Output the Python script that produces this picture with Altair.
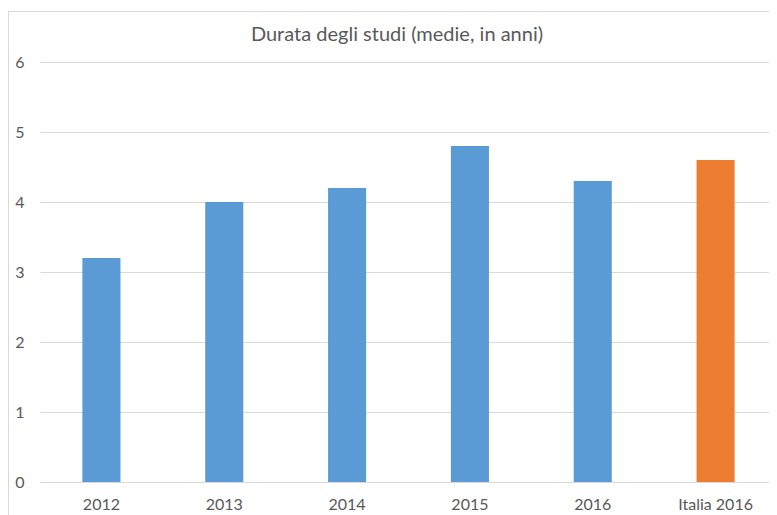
import altair as alt
import pandas as pd

categories = ["2012", "2013", "2014", "2015", "2016", "Italia 2016"]
values = [3.2, 4.0, 4.2, 4.8, 4.3, 4.6]
groups = ["anni", "anni", "anni", "anni", "anni", "italia"]
y_ticks = [0, 1, 2, 3, 4, 5, 6]
title_text = ["Durata degli studi (medie, in anni)"]

df = pd.DataFrame({"cat": categories, "val": values, "grp": groups})
tdf = pd.DataFrame({"t": title_text})

FONT = "Lato"
GREY = "#595959"

bars = alt.Chart(df).mark_bar().encode(
    x=alt.X("cat:N", sort=categories,
            scale=alt.Scale(paddingInner=0.69, paddingOuter=0.345),
            axis=alt.Axis(title=None, labelAngle=0, ticks=False, domain=False,
                          labelPadding=14, labelFontSize=16, labelColor=GREY,
                          labelFont=FONT, grid=False)),
    y=alt.Y("val:Q", scale=alt.Scale(domain=[0, 6], nice=False),
            axis=alt.Axis(title=None, values=y_ticks, ticks=False, domain=False,
                          labelPadding=16, labelFontSize=16, labelColor=GREY,
                          labelFont=FONT, gridColor="#D9D9D9", gridWidth=1)),
    color=alt.Color("grp:N", scale=alt.Scale(domain=["anni", "italia"],
                                             range=["#5B9BD5", "#ED7D31"]),
                    legend=None),
)

border_left = alt.Chart(df).mark_rule(color="#D9D9D9", strokeWidth=1).encode(
    x=alt.value(-31.5), y=alt.value(-50.5), y2=alt.value(460)
)
border_top = alt.Chart(df).mark_rule(color="#D9D9D9", strokeWidth=1).encode(
    x=alt.value(-31.5), x2=alt.value(760), y=alt.value(-50.5)
)

title = alt.Chart(tdf).mark_text(
    font=FONT, fontSize=20, color=GREY, align="center", baseline="alphabetic"
).encode(text="t:N", x=alt.value(357), y=alt.value(-21.5))

chart = alt.layer(border_left, border_top, bars, title).properties(
    width=737, height=420,
    padding={"left": 32, "top": 54, "right": -8, "bottom": 33},
    autosize=alt.AutoSizeParams(type="none"),
).configure_view(stroke=None)

chart.save("out.html", embed_options={"renderer": "svg", "actions": False})
